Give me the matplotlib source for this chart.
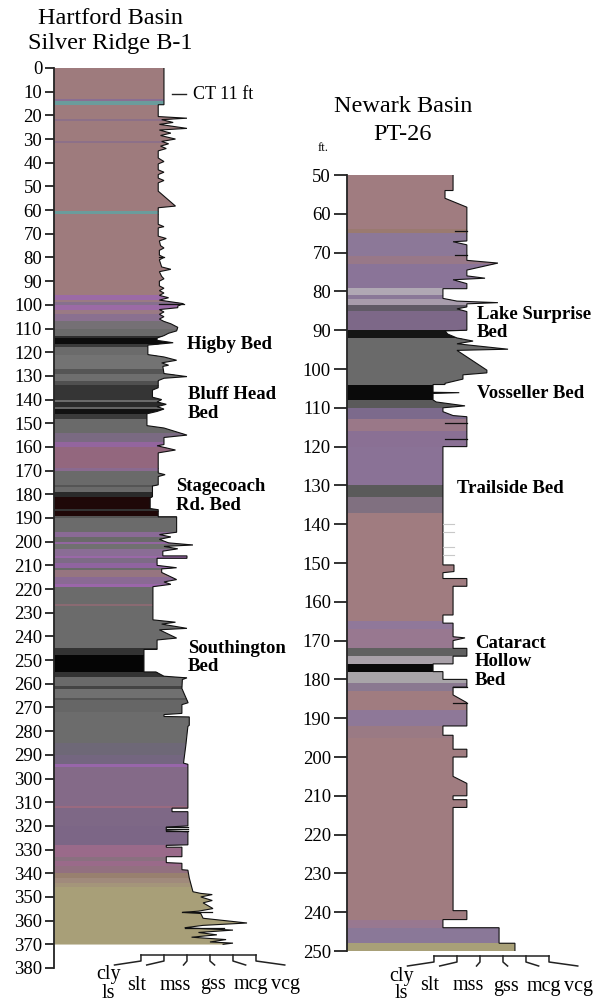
import numpy as np
import matplotlib.pyplot as plt
from matplotlib.patches import Polygon
from matplotlib import transforms

plt.rcParams['font.family'] = ['Liberation Serif', 'DejaVu Serif']

W, H = 596, 1002
X0 = -2.78        # left edge of the columns in grain-size units
XMAX = 8.0

# ---- Hartford Basin, Silver Ridge B-1 ----
# colour bands: boundaries in ft and one colour per band
hb_bounds = [0, 13, 14, 15.5, 21.5, 22.3, 31, 31.8, 60.5, 61.5, 96, 98, 99, 100, 102, 104,
             107, 110, 113, 114, 116.5, 118, 121, 127, 129, 132, 134, 140, 141, 143, 144,
             146, 148, 154, 158, 160, 169, 170, 176, 177, 179, 181, 186, 187, 189, 190,
             196, 198, 200, 201, 203, 206, 207, 209, 211, 212, 215, 218, 219, 226.5, 227.3,
             245, 248, 255, 257, 261, 262, 266, 267, 272, 285, 290, 294, 295, 311.5, 312.3,
             320, 328, 333, 335, 337, 340, 342, 344, 346, 370]
hb_colors = ['#9e7b7d', '#8a6e92', '#6a9c9c', '#9e7b7d', '#8d7088', '#9e7b7d', '#8d7088',
             '#9e7b7d', '#6a9c9c', '#9e7b7d', '#9b6aa6', '#9a7a84', '#86708e', '#9b6aa6',
             '#9a7a84', '#8a7090', '#757075', '#6a6a6a', '#2e2e2e', '#0c0c0c', '#3a3a3a',
             '#6b6b6b', '#737373', '#555555', '#6e6e6e', '#505050', '#353535', '#6a6a6a',
             '#2a2a2a', '#646464', '#111111', '#3a3a3a', '#6a6a6a', '#7a6a82', '#93659e',
             '#93677e', '#8a6a90', '#6a6a6a', '#555555', '#6a6a6a', '#2a2a2a', '#1f0808',
             '#333333', '#1f0808', '#555555', '#6b6b6b', '#8a6a96', '#6a6a6a', '#9266a0',
             '#707070', '#8a6d95', '#9a68a8', '#7d6b86', '#9064a0', '#6a6a6a', '#967580',
             '#8a6a94', '#9b66aa', '#6b6b6b', '#8a6a72', '#6b6b6b', '#333333', '#050505',
             '#333333', '#6a6a6a', '#444444', '#707070', '#555555', '#666666', '#6c6c6c',
             '#6e6877', '#746680', '#9866aa', '#846a88', '#9a6a80', '#7e6886', '#7c6686',
             '#9a6a8a', '#8a7080', '#9a6a8a', '#927080', '#98806f', '#a08a7c', '#a4957a',
             '#a89f78']
# right edge of the column: depth (ft) and grain size
hb_prof_d = [0, 15.5, 15.5, 20.5, 21.2, 21.8, 23, 23.8, 24.5, 25.5, 26.2, 27.5, 28.5, 30, 31,
             32, 33, 34, 35, 38, 39.5, 40.5, 43, 44, 45, 46.5, 47.5, 48.5, 52, 58.3, 59, 66,
             67, 67.5, 71, 72, 73, 75, 76, 77, 79, 80, 81, 84, 85, 86, 88, 89, 90, 92, 93,
             94, 95, 96, 97, 98, 99.5, 100.5, 101.2, 102, 103, 104, 105, 106, 107, 108,
             109.5, 111, 112, 113, 114, 115, 116, 117, 121, 122, 123.4, 124.5, 125.5, 126,
             129, 130.3, 131, 132, 135, 136, 139, 140, 141, 142, 143, 144, 145, 146, 151,
             152, 155, 156, 159, 159.5, 161.3, 162.5, 171, 171.7, 172.5, 176, 176.5, 181,
             181.5, 186, 186.5, 189.5, 189.5, 196, 197, 198, 199, 200.5, 201.4, 202, 203,
             204, 206, 206, 207, 207, 210, 211, 211.5, 213, 216, 217, 218, 219, 233, 234,
             234.8, 236.6, 237.2, 240.7, 241.5, 245.5, 245.5, 255, 255, 256.8, 257.5, 258.2,
             262, 268, 268.8, 272.5, 273, 273.8, 274, 277.5, 278, 286, 293.5, 294, 312.5,
             312.5, 314, 314, 320, 320.5, 322, 322.5, 328, 328.2, 329, 329, 333, 333, 335.5,
             335.8, 338.5, 338.7, 342, 347.8, 348.5, 349, 350, 351.5, 352.5, 354.9, 356,
             356.5, 357, 359, 361, 362, 363, 363.5, 364, 365, 366, 367, 368, 369, 369.5, 370]
hb_prof_g = [2.0, 2.0, 1.75, 1.75, 3.0, 1.9, 2.4, 1.8, 2.3, 3.0, 1.8, 2.3, 1.85, 2.5, 1.9,
             2.2, 1.85, 2.1, 1.75, 1.75, 2.0, 1.75, 1.75, 2.0, 1.75, 1.75, 2.0, 1.75, 1.75,
             2.5, 1.75, 1.75, 2.0, 1.75, 1.75, 2.1, 1.8, 1.85, 2.0, 1.8, 1.8, 2.0, 1.8, 1.9,
             2.3, 1.8, 1.9, 2.0, 1.8, 1.8, 2.0, 1.8, 2.0, 1.8, 2.2, 1.8, 2.85, 2.6, 2.6, 1.8,
             2.0, 1.8, 2.0, 1.8, 2.0, 2.3, 2.6, 2.55, 2.2, 2.0, 1.7, 1.7, 2.4, 1.3, 1.3, 2.0,
             2.55, 1.9, 2.2, 1.95, 2.0, 3.0, 2.0, 1.75, 1.75, 1.5, 1.5, 1.9, 1.7, 2.1, 1.7,
             2.0, 1.7, 1.26, 1.26, 2.0, 3.0, 2.0, 2.0, 1.7, 2.5, 1.75, 1.75, 2.05, 1.75, 1.75,
             1.5, 1.5, 1.4, 1.4, 1.75, 1.75, 2.55, 2.55, 1.8, 2.3, 1.8, 2.2, 3.26, 2.0, 2.6,
             1.95, 1.95, 3.0, 3.0, 1.7, 1.7, 2.55, 1.9, 1.9, 2.55, 2.0, 2.3, 1.52, 1.52, 2.5,
             1.9, 3.0, 1.8, 2.55, 1.7, 1.7, 1.13, 1.13, 1.65, 2.0, 3.0, 2.8, 2.78, 3.05, 2.78,
             2.78, 2.0, 2.0, 3.1, 3.1, 3.04, 2.95, 2.85, 3.04, 3.04, 2.35, 2.35, 3.04, 3.04,
             2.1, 2.1, 3.04, 3.04, 2.1, 2.1, 2.78, 2.78, 2.1, 2.1, 2.78, 2.78, 3.04, 3.1,
             3.26, 3.6, 4.1, 3.6, 4.1, 3.7, 4.13, 3.5, 2.8, 3.6, 3.7, 5.61, 3.7, 2.9, 4.0,
             5.0, 3.5, 4.3, 3.2, 4.7, 4.0, 5.0, 4.57]
# thin dark lines inside the column: depth, from, to
hb_lines_d = [80, 99.5, 320.5, 321.5, 322, 356.5, 363]
hb_lines_a = [1.8, 1.8, 2.1, 2.1, 2.1, 2.8, 2.9]
hb_lines_b = [2.0, 2.85, 3.04, 3.04, 3.04, 4.1, 4.6]

# ---- Newark Basin, PT-26 ----
nb_bounds = [50, 64, 65, 71, 73, 79, 81, 82, 83.5, 85, 90, 92, 104, 108, 110, 113, 116, 120,
             130, 133, 137, 165, 167, 172, 174, 176, 178, 181, 183, 188, 192, 195, 242, 244,
             248, 250]
nb_colors = ['#a07c80', '#9a7a70', '#8c7898', '#987888', '#8a7498', '#b0a8b4', '#8a7898',
             '#a89cac', '#605a66', '#7d6888', '#151515', '#6a6a6a', '#0a0a0a', '#5a5a5a',
             '#7c6a8c', '#9a7888', '#8a7094', '#8a7296', '#5a5a5a', '#807080', '#a07c80',
             '#90789a', '#987890', '#606060', '#a8a0a8', '#080808', '#a8a4a8', '#8a7890',
             '#a07c80', '#8e7898', '#9a7a84', '#a07c80', '#987890', '#8a7898', '#a8a078']
nb_prof_d = [50, 54, 54, 56, 58.3, 67, 67.2, 68, 72, 72.7, 74.5, 76, 76.6, 77, 78, 79.3, 79.3,
             81.8, 82.5, 82.9, 83.2, 84, 84.5, 85.2, 90, 90.2, 91, 92, 92.8, 93.5, 94.9,
             95.2, 100.3, 101, 101.5, 102.6, 103.7, 104, 104, 106, 106.1, 106.3, 108, 108.5,
             109.5, 110, 111, 112, 112.3, 120, 120, 150.5, 150.5, 152.2, 152.5, 154, 154,
             156, 156, 163.4, 163.4, 165.5, 165.5, 169, 169.3, 170, 172, 172, 174, 174, 176,
             176, 178, 178, 180, 180, 182, 182, 184, 186, 192, 192, 194.4, 194.4, 198, 198,
             200, 200, 205, 206.8, 210, 210, 211, 211, 213, 213, 239.6, 239.6, 241.9, 241.9,
             244, 244, 248, 248, 250]
nb_prof_g = [1.83, 1.83, 1.48, 1.48, 2.43, 2.43, 1.83, 2.43, 2.43, 3.78, 2.43, 2.43, 3.22,
             1.83, 2.43, 2.43, 1.39, 1.39, 2.0, 3.78, 2.43, 2.43, 2.0, 2.43, 2.43, 1.48, 1.6,
             2.0, 2.7, 2.0, 4.22, 2.0, 3.3, 3.3, 2.26, 2.26, 1.48, 1.48, 0.96, 0.96, 2.1,
             0.96, 0.96, 1.1, 2.35, 1.39, 1.39, 1.83, 2.43, 2.43, 1.39, 1.39, 1.87, 1.87,
             1.39, 1.39, 2.43, 2.43, 1.83, 1.83, 1.39, 1.39, 1.83, 1.83, 2.35, 1.83, 1.83,
             2.43, 2.43, 1.83, 1.83, 0.96, 0.96, 1.39, 1.39, 2.43, 2.43, 1.83, 1.83, 2.43,
             2.43, 1.39, 1.39, 1.83, 1.83, 2.43, 2.43, 1.83, 1.83, 2.43, 2.43, 1.83, 1.83,
             2.43, 2.43, 1.83, 1.83, 2.43, 2.43, 1.39, 1.39, 3.83, 3.83, 4.52, 4.52]
nb_lines_d = [64.4, 70.6, 114, 118, 182, 186]
nb_lines_a = [1.9, 1.9, 1.5, 1.5, 1.83, 1.83]
nb_lines_b = [2.43, 2.43, 2.43, 2.43, 2.43, 2.43]
# faint grey ticks beside the column
nb_faint_d = [140, 142, 146, 148]

grain_names = ['slt', 'mss', 'gss', 'mcg', 'vcg']
grain_ticks = [1, 2, 3, 4, 5, 6]


def draw_column(ax, bounds, colors, prof_d, prof_g, lines):
    verts = [(X0, prof_d[0])] + list(zip(prof_g, prof_d)) + [(X0, prof_d[-1])]
    outline = Polygon(verts, closed=True, facecolor='none', edgecolor='none')
    ax.add_patch(outline)
    for top, base, c in zip(bounds[:-1], bounds[1:], colors):
        band = ax.fill_between([X0, XMAX], top, base, color=c, lw=0.4, edgecolor=c)
        band.set_clip_path(outline)
    for d, a, b in zip(*lines):
        ax.plot([a, b], [d, d], color='#111111', lw=0.9)
    ax.plot(prof_g, prof_d, color='#111111', lw=0.8, solid_joinstyle='miter')


def setup_axis(ax, top, bottom, ticks, ticklen):
    ax.set_xlim(X0, XMAX)
    ax.set_ylim(bottom, top)
    for s in ['top', 'right', 'bottom']:
        ax.spines[s].set_visible(False)
    ax.spines['left'].set_bounds(top, bottom)
    ax.spines['left'].set_linewidth(1.3)
    ax.spines['left'].set_color('#222222')
    ax.set_xticks([])
    ax.set_yticks(ticks)
    ax.tick_params(axis='y', length=ticklen, width=1.3, color='#222222', pad=2,
                   labelsize=13.5)
    ax.patch.set_visible(False)


def draw_scale(ax, base_px):
    tr = transforms.blended_transform_factory(ax.transData, fig.transFigure)
    fy = lambda p: 1 - p / H
    kw = dict(color='#222222', lw=1.1, transform=tr, clip_on=False)
    ax.plot([grain_ticks[0], grain_ticks[-1]], [fy(base_px)] * 2, **kw)
    ends = [-1.15, -0.75, -0.15, 0.2, 0.55, 1.25]
    for g, e in zip(grain_ticks, ends):
        ax.plot([g, g, g + e], [fy(base_px), fy(base_px + 6), fy(base_px + 10)], **kw)
    lab_x = [0.8, 2.47, 4.15, 5.77, 7.3]
    ax.text(-0.4, fy(base_px + 20), 'cly', ha='center', va='center', fontsize=14.5,
            transform=tr)
    ax.text(-0.4, fy(base_px + 38), 'ls', ha='center', va='center', fontsize=14.5,
            transform=tr)
    for x, name in zip(lab_x, grain_names):
        ax.text(x, fy(base_px + 30), name, ha='center', va='center', fontsize=14.5,
                transform=tr)


fig = plt.figure(figsize=(W / 100, H / 100), dpi=100)

ax1 = fig.add_axes([54 / W, 1 - 968 / H, 248 / W, 900 / H])
setup_axis(ax1, 0, 380, np.arange(0, 381, 10), 6.5)
draw_column(ax1, hb_bounds, hb_colors, hb_prof_d, hb_prof_g,
            (hb_lines_d, hb_lines_a, hb_lines_b))
draw_scale(ax1, 955)

ax2 = fig.add_axes([347 / W, 1 - 951 / H, 248 / W, 776 / H])
setup_axis(ax2, 50, 250, np.arange(50, 251, 10), 9.5)
draw_column(ax2, nb_bounds, nb_colors, nb_prof_d, nb_prof_g,
            (nb_lines_d, nb_lines_a, nb_lines_b))
for d in nb_faint_d:
    ax2.plot([1.39, 1.85], [d, d], color='#c8c8c8', lw=0.8)
draw_scale(ax2, 956)

# titles
fig.text(111 / W, 1 - 18 / H, 'Hartford Basin', ha='center', va='center', fontsize=17.5)
fig.text(110 / W, 1 - 43 / H, 'Silver Ridge B-1', ha='center', va='center', fontsize=17.5)
fig.text(403 / W, 1 - 107 / H, 'Newark Basin', ha='center', va='center', fontsize=17.5)
fig.text(403 / W, 1 - 134 / H, 'PT-26', ha='center', va='center', fontsize=17.5)
fig.text(323 / W, 1 - 148 / H, 'ft.', ha='center', va='center', fontsize=9)

# bed names
bed = dict(ha='left', va='center', fontsize=13.5, fontweight='bold', linespacing=1.12)
ax1.text(3.0, 116.6, 'Higby Bed', **bed)
ax1.text(3.04, 141.9, 'Bluff Head\nBed', **bed)
ax1.text(2.52, 180.7, 'Stagecoach\nRd. Bed', **bed)
ax1.text(3.04, 248.9, 'Southington\nBed', **bed)
ax1.plot([2.35, 2.96], [11, 11], color='#222222', lw=1.0)
ax1.text(3.26, 11, 'CT 11 ft', ha='left', va='center', fontsize=13)

ax2.text(2.87, 88.3, 'Lake Surprise\nBed', **bed)
ax2.text(2.87, 106.2, 'Vosseller Bed', **bed)
ax2.text(2.0, 130.7, 'Trailside Bed', **bed)
ax2.text(2.78, 175.5, 'Cataract\nHollow\nBed', **bed)

fig.savefig('out.png', dpi=100)
